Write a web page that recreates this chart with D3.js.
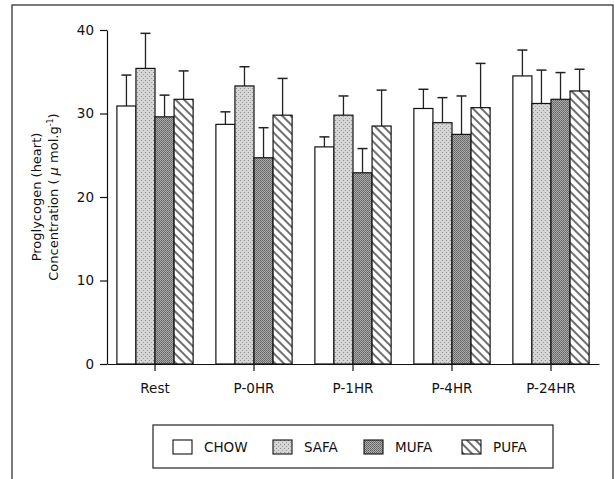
<!DOCTYPE html>
<html>
<head>
<meta charset="utf-8">
<script src="https://cdn.jsdelivr.net/npm/d3@7"></script>
<style>
  body { margin: 0; background: #fff; }
  text { font-family: "DejaVu Sans", sans-serif; fill: #111; }
</style>
</head>
<body>
<script>
// values (mean and error bar length)
const categories = ["Rest", "P-0HR", "P-1HR", "P-4HR", "P-24HR"];
const series = ["CHOW", "SAFA", "MUFA", "PUFA"];
const chow = [30.9, 28.7, 26.0, 30.6, 34.5];
const chowErr = [3.7, 1.5, 1.2, 2.3, 3.1];
const safa = [35.4, 33.3, 29.8, 28.9, 31.2];
const safaErr = [4.2, 2.3, 2.3, 3.0, 4.0];
const mufa = [29.6, 24.7, 22.9, 27.5, 31.7];
const mufaErr = [2.6, 3.6, 2.9, 4.6, 3.2];
const pufa = [31.7, 29.8, 28.5, 30.7, 32.7];
const pufaErr = [3.4, 4.4, 4.3, 5.3, 2.6];
const yTicks = [0, 10, 20, 30, 40];

const values = [chow, safa, mufa, pufa];
const errors = [chowErr, safaErr, mufaErr, pufaErr];

const w = 615, h = 479;
const margin = {top: 30, right: 16, bottom: 115, left: 107};

let svg = d3.select("body").append("svg")
    .attr("width", w)
    .attr("height", h);

// fill patterns
let defs = svg.append("defs");

let pSafa = defs.append("pattern").attr("id", "safa")
    .attr("patternUnits", "userSpaceOnUse").attr("width", 4).attr("height", 4);
pSafa.append("rect").attr("width", 4).attr("height", 4).attr("fill", "#d6d6d6");
pSafa.append("rect").attr("x", 0).attr("y", 0).attr("width", 1).attr("height", 1).attr("fill", "#8a8a8a");
pSafa.append("rect").attr("x", 2).attr("y", 2).attr("width", 1).attr("height", 1).attr("fill", "#9a9a9a");

let pMufa = defs.append("pattern").attr("id", "mufa")
    .attr("patternUnits", "userSpaceOnUse").attr("width", 2).attr("height", 2);
pMufa.append("rect").attr("width", 2).attr("height", 2).attr("fill", "#b0b0b0");
pMufa.append("rect").attr("width", 1).attr("height", 1).attr("fill", "#5e5e5e");
pMufa.append("rect").attr("x", 1).attr("y", 1).attr("width", 1).attr("height", 1).attr("fill", "#6e6e6e");

let pPufa = defs.append("pattern").attr("id", "pufa")
    .attr("patternUnits", "userSpaceOnUse").attr("width", 6).attr("height", 6)
    .attr("patternTransform", "rotate(-45)");
pPufa.append("rect").attr("width", 6).attr("height", 6).attr("fill", "#fff");
pPufa.append("line").attr("x1", 1).attr("y1", 0).attr("x2", 1).attr("y2", 6)
    .attr("stroke", "#222").attr("stroke-width", 1.3);

const fills = {CHOW: "#fff", SAFA: "url(#safa)", MUFA: "url(#mufa)", PUFA: "url(#pufa)"};

// outer frame
svg.append("rect")
    .attr("x", 12).attr("y", 5)
    .attr("width", 601).attr("height", 490)
    .attr("fill", "none").attr("stroke", "#333").attr("stroke-width", 1.3);

let x = d3.scaleBand()
    .domain(categories)
    .range([margin.left, w - margin.right])
    .paddingInner(0.23)
    .paddingOuter(0.1);

let xs = d3.scaleBand()
    .domain(series)
    .range([0, x.bandwidth()]);

let y = d3.scaleLinear()
    .domain([0, 40])
    .range([h - margin.bottom, margin.top]);

let groups = svg.append("g").selectAll("g")
    .data(categories)
    .join("g")
    .attr("transform", d => `translate(${x(d)},0)`);

groups.each(function(cat, ci) {
    let g = d3.select(this);
    series.forEach((s, si) => {
        let v = values[si][ci], e = errors[si][ci];
        let cx = xs(s) + xs.bandwidth() / 2;
        // error bar
        g.append("line")
            .attr("x1", cx).attr("x2", cx)
            .attr("y1", y(v)).attr("y2", y(v + e))
            .attr("stroke", "#222").attr("stroke-width", 1.3);
        g.append("line")
            .attr("x1", cx - 5).attr("x2", cx + 5)
            .attr("y1", y(v + e)).attr("y2", y(v + e))
            .attr("stroke", "#222").attr("stroke-width", 1.5);
        g.append("rect")
            .attr("x", xs(s))
            .attr("y", y(v))
            .attr("width", xs.bandwidth())
            .attr("height", y(0) - y(v))
            .attr("fill", fills[s])
            .attr("stroke", "#111")
            .attr("stroke-width", 1.2);
    });
});

// axes
let xAxis = g => g
    .attr("transform", `translate(0,${y(0)})`)
    .call(d3.axisBottom(x).tickSize(7).tickSizeOuter(0).tickPadding(12))
    .call(g => g.select(".domain").attr("stroke", "#111").attr("stroke-width", 1.2))
    .call(g => g.selectAll(".tick line").attr("stroke", "#111").attr("stroke-width", 1.2))
    .call(g => g.selectAll("text").attr("font-size", 13.5).attr("fill", "#111")
        .attr("font-family", "DejaVu Sans, sans-serif"));

let yAxis = g => g
    .attr("transform", `translate(${margin.left},0)`)
    .call(d3.axisLeft(y).tickValues(yTicks).tickSize(7).tickSizeOuter(0).tickPadding(6))
    .call(g => g.select(".domain").attr("stroke", "#111").attr("stroke-width", 1.2))
    .call(g => g.selectAll(".tick line").attr("stroke", "#111").attr("stroke-width", 1.2))
    .call(g => g.selectAll("text").attr("font-size", 13.5).attr("fill", "#111")
        .attr("font-family", "DejaVu Sans, sans-serif"));

svg.append("g").call(xAxis);
svg.append("g").call(yAxis);

// y axis title, two lines
let midY = (y(0) + y(40)) / 2;
let title = svg.append("text")
    .attr("transform", `translate(0,${midY}) rotate(-90)`)
    .attr("text-anchor", "middle")
    .attr("font-size", 13);
title.append("tspan").attr("x", 0).attr("y", 41).text("Proglycogen (heart)");
let l2 = title.append("tspan").attr("x", 0).attr("y", 58).text("Concentration ( ");
l2.append("tspan").attr("font-style", "italic").text("μ");
l2.append("tspan").text(" mol.g");
l2.append("tspan").attr("font-size", 8).attr("dy", -5).text("-1");
l2.append("tspan").attr("dy", 5).text(")");

// legend
let legend = svg.append("g");
legend.append("rect")
    .attr("x", 153).attr("y", 425)
    .attr("width", 400).attr("height", 43)
    .attr("fill", "#fff").attr("stroke", "#222").attr("stroke-width", 1.2);

const legendX = [173, 273, 364, 462];
series.forEach((s, i) => {
    legend.append("rect")
        .attr("x", legendX[i]).attr("y", 440)
        .attr("width", 19).attr("height", 14)
        .attr("fill", fills[s]).attr("stroke", "#111").attr("stroke-width", 1.1);
    legend.append("text")
        .attr("x", legendX[i] + 31).attr("y", 452)
        .attr("font-size", 13.5)
        .text(s);
});
</script>
</body>
</html>
